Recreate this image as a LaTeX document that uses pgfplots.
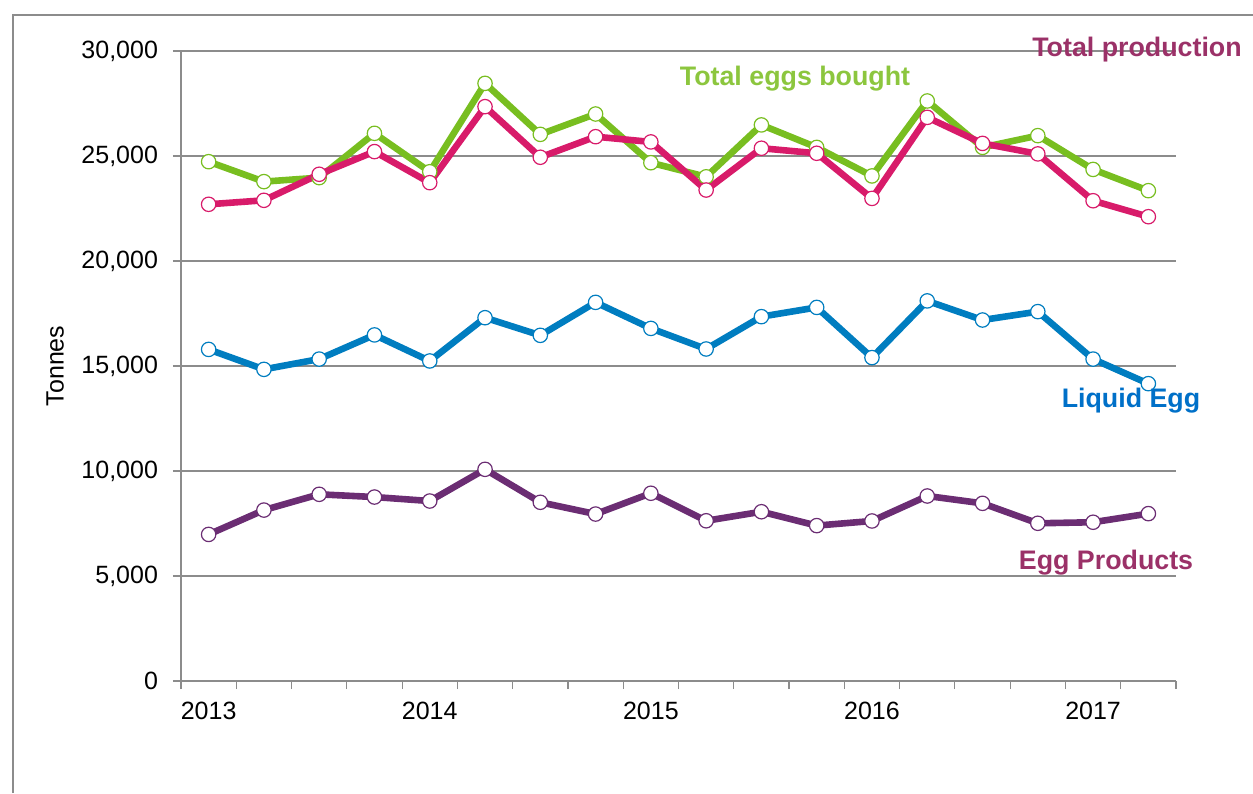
\documentclass[border=0pt]{standalone}
\usepackage{pgfplots}
\pgfplotsset{compat=1.18}
\usepackage{fontspec}
\setmainfont{Liberation Sans}
\definecolor{cgreen}{HTML}{78BE20}
\definecolor{cgreent}{HTML}{8CC63E}
\definecolor{cpink}{HTML}{D81B6A}
\definecolor{cblue}{HTML}{007DC0}
\definecolor{cbluet}{HTML}{0070C8}
\definecolor{cpurple}{HTML}{6B2D73}
\definecolor{cmaroon}{HTML}{9B3168}
\definecolor{cgrid}{HTML}{8C8C8C}
\begin{document}
\begin{tikzpicture}
\path[use as bounding box] (0,0) rectangle (626.5pt,396.5pt);
\draw[cgrid, line width=0.8pt] (6.5pt,0) -- (6.5pt,389pt) -- (626.5pt,389pt);
\begin{axis}[
  at={(90.5pt,56pt)}, anchor=south west,
  scale only axis, width=497.5pt, height=315pt,
  xmin=-0.5, xmax=17.5, ymin=0, ymax=30000,
  axis x line*=bottom, axis y line*=left,
  axis line style={cgrid, line width=0.8pt},
  xtick={0,4,8,12,16}, xticklabels={2013,2014,2015,2016,2017},
  major x tick style={draw=none},
  minor xtick={-0.5,0.5,...,17.5},
  minor tick length=4pt,
  minor x tick style={cgrid, line width=0.6pt},
  tick align=outside,
  ytick={0,5000,...,30000},
  major tick length=4pt,
  y tick style={cgrid, line width=0.8pt},
  ymajorgrids, grid style={cgrid, line width=0.8pt},
  scaled y ticks=false,
  /pgf/number format/fixed,
  /pgf/number format/1000 sep={,},
  /pgf/number format/assume math mode=true,
  ticklabel style={font=\fontsize{12.5}{15}\selectfont, text=black},
  xticklabel style={yshift=-3pt},
  yticklabel style={xshift=-4pt},
  ylabel={Tonnes},
  every axis y label/.style={at={(axis description cs:-0.1266,0.5)}, rotate=90, anchor=center, font=\fontsize{12.5}{15}\selectfont},
  clip=false,
  every axis plot/.append style={line width=3.3pt, mark=*, mark size=3.6pt},
]
\addplot[cgreen, mark options={draw=cgreen, fill=white, line width=0.6pt}] coordinates {
(0,24730) (1,23780) (2,23970) (3,26080) (4,24250) (5,28460) (6,26030) (7,27000) (8,24680)
(9,24010) (10,26480) (11,25410) (12,24050) (13,27620) (14,25410) (15,25970) (16,24360) (17,23350)};
\addplot[cpink, mark options={draw=cpink, fill=white, line width=0.6pt}] coordinates {
(0,22700) (1,22890) (2,24130) (3,25210) (4,23730) (5,27350) (6,24940) (7,25920) (8,25670)
(9,23380) (10,25370) (11,25130) (12,22980) (13,26840) (14,25600) (15,25100) (16,22870) (17,22110)};
\addplot[cblue, mark options={draw=cblue, fill=white, line width=0.6pt}] coordinates {
(0,15790) (1,14840) (2,15330) (3,16480) (4,15240) (5,17300) (6,16460) (7,18030) (8,16790)
(9,15810) (10,17350) (11,17790) (12,15400) (13,18100) (14,17190) (15,17590) (16,15330) (17,14160)};
\addplot[cpurple, mark options={draw=cpurple, fill=white, line width=0.6pt}] coordinates {
(0,6980) (1,8140) (2,8890) (3,8760) (4,8570) (5,10080) (6,8510) (7,7950) (8,8940)
(9,7630) (10,8060) (11,7400) (12,7620) (13,8810) (14,8460) (15,7510) (16,7560) (17,7970)};
\end{axis}
\begin{scope}[font=\fontsize{13.4}{16}\selectfont\bfseries]
\node[text=cgreent] at (397.5pt,357pt) {Total eggs bought};
\node[text=cmaroon] at (568.5pt,371.5pt) {Total production};
\node[text=cbluet] at (565.5pt,196pt) {Liquid Egg};
\node[text=cmaroon] at (553pt,115pt) {Egg Products};
\end{scope}
\end{tikzpicture}
\end{document}
